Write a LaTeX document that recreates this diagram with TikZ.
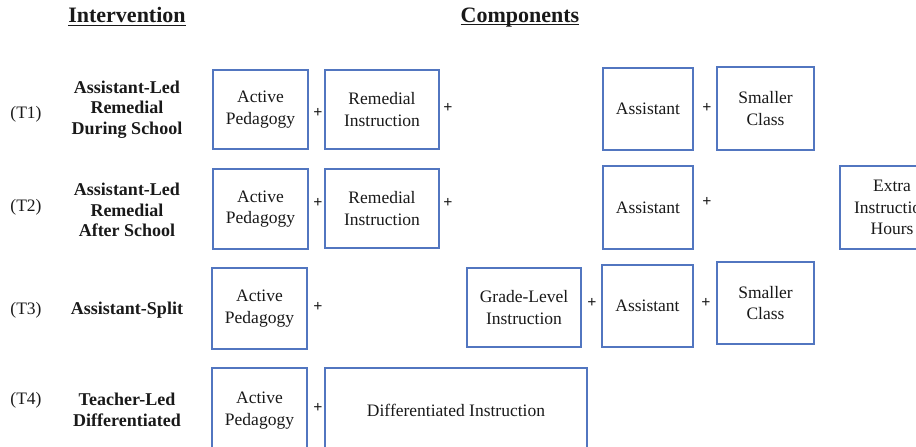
\documentclass[tikz,border=0pt]{standalone}
\usepackage{fontspec}
\setmainfont{Liberation Serif}
\definecolor{boxblue}{RGB}{82,118,192}
\definecolor{ink}{RGB}{25,25,25}
\begin{document}
\begin{tikzpicture}[x=1pt,y=-1pt,
  comp/.style={draw=boxblue, line width=1.1pt, inner sep=0pt, align=center, text=ink,
    font=\fontsize{17.5}{21.5}\selectfont},
  lab/.style={align=center, text=ink, font=\bfseries\fontsize{18}{20.5}\selectfont},
  tag/.style={text=ink, font=\fontsize{17.5}{20}\selectfont},
  plus/.style={inner sep=0pt, text=ink, font=\bfseries\fontsize{16}{16}\selectfont},
  head/.style={text=ink, inner sep=0pt, anchor=base, font=\bfseries\fontsize{22}{24}\selectfont},
  uline/.style={draw=ink, line width=1.3pt}]
\useasboundingbox (0,0) rectangle (916,447);
\clip (0,0) rectangle (916,447);
% headers
\node[head] (hint) at (127,22.5) {Intervention};
\node[head] (hcomp) at (520,22.5) {Components};
\draw[uline] ([yshift=-3pt]hint.base west) -- ([yshift=-3pt]hint.base east);
\draw[uline] ([yshift=-2pt]hcomp.base west) -- ([yshift=-2pt]hcomp.base east);
% tags
\node[tag] (t1) at (26,114) {(T1)};
\node[tag] (t2) at (26,207) {(T2)};
\node[tag] (t3) at (26,310) {(T3)};
\node[tag] (t4) at (26,400) {(T4)};
% intervention labels
\node[lab] (l1) at (127,109.5) {Assistant-Led\\Remedial\\During School};
\node[lab] (l2) at (127,210) {Assistant-Led\\Remedial\\After School};
\node[lab] (l3) at (127,310) {Assistant-Split};
\node[lab] (l4) at (127,410) {Teacher-Led\\Differentiated};
% T1
\node[comp, minimum width=95pt, minimum height=79pt] (ap1) at (260.5,109.5) {Active\\Pedagogy};
\node[comp, minimum width=114pt, minimum height=79pt] (ri1) at (382,109.5) {Remedial\\Instruction};
\node[comp, minimum width=90pt, minimum height=82pt] (as1) at (648,109) {Assistant};
\node[comp, minimum width=97pt, minimum height=83pt] (sc1) at (765.5,108.5) {Smaller\\Class};
\node[plus] (p11) at (318,113) {+};
\node[plus] (p12) at (448,108) {+};
\node[plus] (p13) at (707,108) {+};
% T2
\node[comp, minimum width=95pt, minimum height=80pt] (ap2) at (260.5,209) {Active\\Pedagogy};
\node[comp, minimum width=114pt, minimum height=79pt] (ri2) at (382,208.5) {Remedial\\Instruction};
\node[comp, minimum width=90pt, minimum height=83pt] (as2) at (648,207.5) {Assistant};
\node[comp, minimum width=104pt, minimum height=83pt] (ex2) at (892,207.5) {Extra\\Instruction\\Hours};
\node[plus] (p21) at (318,203) {+};
\node[plus] (p22) at (448,203) {+};
\node[plus] (p23) at (707,202) {+};
% T3
\node[comp, minimum width=95pt, minimum height=81pt] (ap3) at (259.5,308.5) {Active\\Pedagogy};
\node[comp, minimum width=114pt, minimum height=79pt] (gl3) at (524,307.5) {Grade-Level\\Instruction};
\node[comp, minimum width=91pt, minimum height=82pt] (as3) at (647.5,306) {Assistant};
\node[comp, minimum width=97pt, minimum height=82pt] (sc3) at (765.5,303) {Smaller\\Class};
\node[plus] (p31) at (318,307) {+};
\node[plus] (p32) at (592,303) {+};
\node[plus] (p33) at (706,303) {+};
% T4
\node[comp, minimum width=95pt, minimum height=85pt] (ap4) at (259.5,410.5) {Active\\Pedagogy};
\node[comp, minimum width=262pt, minimum height=85pt] (di4) at (456,410.5) {Differentiated Instruction};
\node[plus] (p41) at (318,408) {+};
\end{tikzpicture}
\end{document}
